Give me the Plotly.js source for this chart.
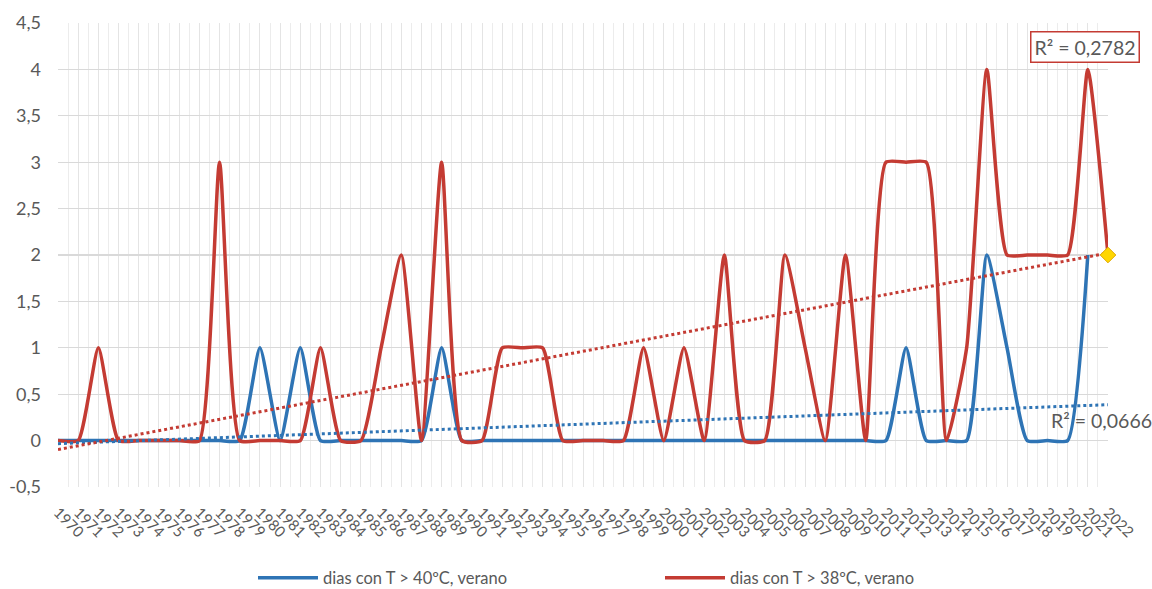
<!DOCTYPE html>
<html>
<head>
<meta charset="utf-8">
<script src="https://cdn.plot.ly/plotly-3.0.1.min.js"></script>
<style>
  html, body { margin: 0; padding: 0; background: #ffffff; }
  #chart { width: 1152px; height: 589px; }
</style>
</head>
<body>
<div id="chart"></div>
<script>
const years = [1970, 1971, 1972, 1973, 1974, 1975, 1976, 1977, 1978, 1979,
               1980, 1981, 1982, 1983, 1984, 1985, 1986, 1987, 1988, 1989,
               1990, 1991, 1992, 1993, 1994, 1995, 1996, 1997, 1998, 1999,
               2000, 2001, 2002, 2003, 2004, 2005, 2006, 2007, 2008, 2009,
               2010, 2011, 2012, 2013, 2014, 2015, 2016, 2017, 2018, 2019,
               2020, 2021, 2022];

// dias con T > 40ºC, verano (no value for 2022)
const days40 = [0, 0, 0, 0, 0, 0, 0, 0, 0, 0,
                1, 0, 1, 0, 0, 0, 0, 0, 0, 1,
                0, 0, 0, 0, 0, 0, 0, 0, 0, 0,
                0, 0, 0, 0, 0, 0, 0, 0, 0, 0,
                0, 0, 1, 0, 0, 0, 2, 1, 0, 0,
                0, 2, null];

// dias con T > 38ºC, verano
const days38 = [0, 0, 1, 0, 0, 0, 0, 0, 3, 0,
                0, 0, 0, 1, 0, 0, 1, 2, 0, 3,
                0, 0, 1, 1, 1, 0, 0, 0, 0, 1,
                0, 1, 0, 2, 0, 0, 2, 1, 0, 2,
                0, 3, 3, 3, 0, 1, 4, 2, 2, 2,
                2, 4, 2];

const yTickVals = [-0.5, 0, 0.5, 1, 1.5, 2, 2.5, 3, 3.5, 4, 4.5];
const yTickText = ['-0,5', '0', '0,5', '1', '1,5', '2', '2,5', '3', '3,5', '4', '4,5'];

const seriesNames = ['dias con T > 40ºC, verano', 'dias con T > 38ºC, verano'];
const r2Labels = ['R² = 0,0666', 'R² = 0,2782'];

const BLUE = '#2E74B5';
const RED = '#C43B33';
const TXT = '#595959';

// least-squares linear trendline (as Excel's "Linear" trendline)
function linFit(xs, ys) {
  let n = 0, sx = 0, sy = 0, sxx = 0, sxy = 0;
  for (let i = 0; i < xs.length; i++) {
    if (ys[i] === null || ys[i] === undefined) continue;
    n++; sx += xs[i]; sy += ys[i]; sxx += xs[i] * xs[i]; sxy += xs[i] * ys[i];
  }
  const b = (n * sxy - sx * sy) / (n * sxx - sx * sx);
  const a = (sy - b * sx) / n;
  return x => a + b * x;
}

const f40 = linFit(years, days40);
const f38 = linFit(years, days38);
const trendX = [years[0], years[years.length - 1]];

const SMOOTH = 0.5;

const traces = [
  {
    x: years, y: days40, name: seriesNames[0], type: 'scatter', mode: 'lines',
    line: { color: BLUE, width: 3.5, shape: 'spline', smoothing: SMOOTH },
    connectgaps: false, cliponaxis: false
  },
  {
    x: years, y: days38, name: seriesNames[1], type: 'scatter', mode: 'lines',
    line: { color: RED, width: 3.5, shape: 'spline', smoothing: SMOOTH },
    cliponaxis: false
  },
  {
    x: trendX, y: trendX.map(f40), type: 'scatter', mode: 'lines', showlegend: false,
    line: { color: BLUE, width: 3, dash: 'dot' }, hoverinfo: 'skip'
  },
  {
    x: trendX, y: trendX.map(f38), type: 'scatter', mode: 'lines', showlegend: false,
    line: { color: RED, width: 3, dash: 'dot' }, hoverinfo: 'skip'
  },
  {
    x: [years[years.length - 1]], y: [days38[days38.length - 1]], type: 'scatter', mode: 'markers',
    showlegend: false, cliponaxis: false,
    marker: { symbol: 'diamond', size: 12, color: '#FFD700', line: { color: '#E0A800', width: 1 } }
  }
];

const layout = {
  width: 1152, height: 589,
  margin: { l: 58, r: 44, t: 23, b: 102 },
  paper_bgcolor: '#ffffff', plot_bgcolor: '#ffffff',
  font: { family: 'Lato, "Open Sans", sans-serif', color: TXT, size: 16 },
  showlegend: true,
  xaxis: {
    type: 'linear', range: [years[0], years[years.length - 1]],
    tickmode: 'array', tickvals: years, ticktext: years.map(String),
    tickangle: 45, tickfont: { size: 15, color: TXT }, ticklabelstandoff: 13,
    showgrid: true, gridcolor: '#e4e4e4', gridwidth: 1,
    minor: { dtick: 0.5, tick0: 1970, showgrid: true, gridcolor: '#ececec', gridwidth: 1 },
    zeroline: false, showline: false, ticks: ''
  },
  yaxis: {
    range: [-0.5, 4.5],
    tickmode: 'array', tickvals: yTickVals, ticktext: yTickText,
    tickfont: { size: 18, color: TXT },
    showgrid: true, gridcolor: '#d9d9d9', gridwidth: 1.3,
    zeroline: false, showline: false, ticks: '', ticklabelstandoff: 16
  },
  legend: {
    orientation: 'h', xref: 'container', yref: 'container',
    x: 253 / 1152, y: (589 - 578) / 589, xanchor: 'left', yanchor: 'middle',
    itemwidth: 60, entrywidth: 332, entrywidthmode: 'pixels',
    font: { size: 16.5, color: TXT }, bgcolor: 'rgba(0,0,0,0)'
  },
  annotations: [
    {
      x: 2020.87, y: 4.244, xref: 'x', yref: 'y', text: r2Labels[1], showarrow: false,
      font: { size: 19.5, color: TXT }, bordercolor: RED, borderwidth: 1.5, borderpad: 3,
      bgcolor: '#ffffff', xanchor: 'center', yanchor: 'middle'
    },
    {
      x: 2021.66, y: 0.216, xref: 'x', yref: 'y', text: r2Labels[0], showarrow: false,
      font: { size: 19.5, color: TXT }, xanchor: 'center', yanchor: 'middle'
    }
  ]
};

Plotly.newPlot('chart', traces, layout, { displayModeBar: false, staticPlot: true });
</script>
</body>
</html>
